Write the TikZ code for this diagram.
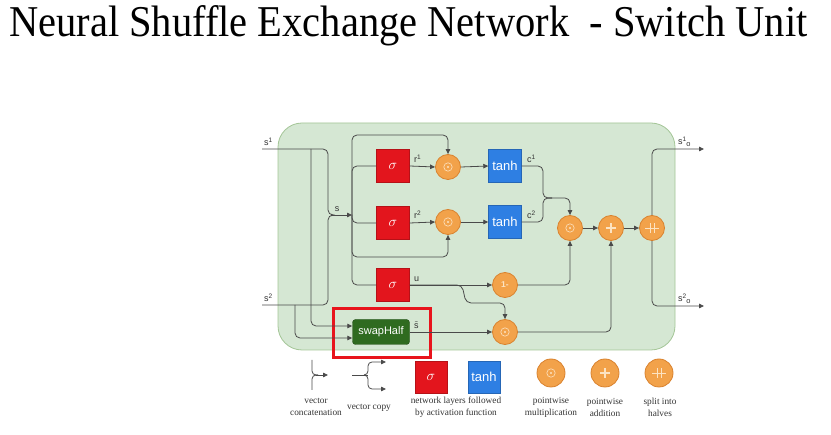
\documentclass[tikz,border=0pt]{standalone}
\usepackage{fontspec}
\setmainfont{Liberation Serif}
\setsansfont{Liberation Sans}
\usetikzlibrary{arrows.meta}
\definecolor{panelfill}{HTML}{D5E7D3}
\definecolor{paneledge}{HTML}{A3C596}
\definecolor{sigred}{HTML}{E3151D}
\definecolor{tanhblue}{HTML}{2E7FE3}
\definecolor{opfill}{HTML}{F2A24A}
\definecolor{opedge}{HTML}{D9822E}
\definecolor{opmark}{HTML}{FCE3C2}
\definecolor{swgreen}{HTML}{2F6B20}
\definecolor{wire}{HTML}{4A4A4A}
\definecolor{hilite}{HTML}{E8141C}
\newcommand{\upidx}[1]{\raisebox{3.2pt}{\fontsize{6.5}{6.5}\selectfont #1}}
\newcommand{\dnidx}[1]{\raisebox{-2.5pt}{\fontsize{7.5}{7.5}\selectfont #1}}
\tikzset{
  wirestyle/.style={draw=wire, line width=0.8pt, rounded corners=5pt},
  arr/.style={wirestyle, -{Triangle[length=5pt,width=4.5pt]}},
  sigbox/.style={draw=sigred!80!black, fill=sigred, minimum size=33pt, inner sep=0pt,
    text=white, font=\fontsize{15}{15}\selectfont\itshape},
  tanhbox/.style={draw=tanhblue!80!black, fill=tanhblue, minimum size=33pt, inner sep=0pt,
    text=white, font=\sffamily\fontsize{13}{13}\selectfont},
  opcirc/.style={circle, draw=opedge, line width=0.8pt, fill=opfill, minimum size=25pt, inner sep=0pt},
  mulop/.style={opcirc, path picture={
      \draw[opmark, line width=0.6pt] (path picture bounding box.center) circle (4.2pt);
      \fill[opmark] (path picture bounding box.center) circle (1.1pt);}},
  addop/.style={opcirc, path picture={
      \draw[opmark, line width=1.3pt] ([xshift=-5pt]path picture bounding box.center) -- ([xshift=5pt]path picture bounding box.center)
        ([yshift=-5pt]path picture bounding box.center) -- ([yshift=5pt]path picture bounding box.center);}},
  splitop/.style={opcirc, path picture={
      \draw[opmark, line width=0.8pt] ([xshift=-7pt]path picture bounding box.center) -- ([xshift=7pt]path picture bounding box.center)
        ([xshift=-2pt,yshift=-5pt]path picture bounding box.center) -- ([xshift=-2pt,yshift=5pt]path picture bounding box.center)
        ([xshift=2pt,yshift=-5pt]path picture bounding box.center) -- ([xshift=2pt,yshift=5pt]path picture bounding box.center);}},
  lbl/.style={font=\sffamily\fontsize{9}{9}\selectfont, text=black!80, inner sep=0pt},
  legtext/.style={font=\fontsize{9.3}{12}\selectfont, text=black!80, align=center, inner sep=0pt},
}
\begin{document}
\begin{tikzpicture}[x=1pt, y=-1pt]
\useasboundingbox (0,0) rectangle (831,435);

% title
\node[anchor=base west, inner sep=0pt, font=\fontsize{44}{44}\selectfont] (title) at (9,37)
  {\scalebox{0.92}[1]{Neural Shuffle Exchange Network\ \ - Switch Unit}};

% background panel of the switch unit
\draw[fill=panelfill, draw=paneledge, line width=0.8pt, rounded corners=24pt] (278,123) rectangle (675,350);

% layers
\node[sigbox] (sg1) at (393,166) {$\sigma$};
\node[sigbox] (sg2) at (393,223) {$\sigma$};
\node[sigbox] (sg3) at (393,285) {$\sigma$};
\node[tanhbox] (th1) at (505,166) {tanh};
\node[tanhbox] (th2) at (505,222) {tanh};
\node[draw=swgreen!70!black, fill=swgreen, rounded corners=3pt, minimum width=57pt, minimum height=25pt,
  inner sep=0pt, text=white, font=\sffamily\fontsize{11}{11}\selectfont] (sw) at (381,332) {swapHalf};
\node[draw=hilite, line width=2.6pt, minimum width=97pt, minimum height=49pt, inner sep=0pt] (hl) at (382,333) {};

% pointwise operations
\node[mulop] (m1) at (448,167) {};
\node[mulop] (m2) at (448,222) {};
\node[mulop] (m3) at (570,228) {};
\node[mulop] (m4) at (505,332) {};
\node[opcirc, text=opmark, font=\sffamily\bfseries\fontsize{8.5}{8.5}\selectfont] (om) at (505,285) {1-};
\node[addop] (ad) at (611,228) {};
\node[splitop] (sp) at (652,228) {};

% inputs and outputs
\coordinate (in1) at (262,149);
\coordinate (in2) at (262,305);
\coordinate (sj) at (331,215);
\coordinate (bus) at (352,215);
\coordinate (t1) at (311,149);
\coordinate (t2) at (295,305);
\coordinate (o1) at (704,149);
\coordinate (o2) at (704,306);

\node[lbl, anchor=south west] at (264,146) {s\upidx{1}};
\node[lbl, anchor=south west] at (264,302) {s\upidx{2}};
\node[lbl, anchor=south] at (337,212) {s};
\node[lbl, anchor=south west] at (678,147) {s\upidx{1}\dnidx{o}};
\node[lbl, anchor=south west] at (678,304) {s\upidx{2}\dnidx{o}};
\node[lbl, anchor=south west] at (414,163) {r\upidx{1}};
\node[lbl, anchor=south west] at (414,219) {r\upidx{2}};
\node[lbl, anchor=south west] at (527,163) {c\upidx{1}};
\node[lbl, anchor=south west] at (527,219) {c\upidx{2}};
\node[lbl, anchor=south west] at (414,282) {u};
\node[lbl, anchor=south west] at (414,329) {$\tilde{\mathsf{s}}$};

% concatenation of the inputs
\draw[wirestyle] (in1) -- (328,149) -- (328,215) -- (sj);
\draw[wirestyle] (in2) -- (328,305) -- (328,215) -- (sj);
\draw[arr] (sj) -- (bus);
% copies of the inputs into swapHalf
\draw[arr] (t1) -- (311,326) -- (sw.west |- 0,326);
\draw[arr] (t2) -- (295,338) -- (sw.west |- 0,338);

% copies of s
\draw[arr] (bus) -- (352,135) -- (m1.north |- 0,135) -- (m1.north);
\draw[wirestyle] (bus) -- (352,166) -- (sg1.west);
\draw[wirestyle] (bus) -- (352,223) -- (sg2.west);
\draw[arr] (bus) -- (352,257) -- (m2.south |- 0,257) -- (m2.south);
\draw[wirestyle] (bus) -- (352,285) -- (sg3.west);

% gates
\draw[arr] (sg1.east) -- (m1.west);
\draw[arr] (sg2.east) -- (m2.west);
\draw[arr] (m1.east) -- (th1.west);
\draw[arr] (m2.east) -- (th2.west);
\draw[wirestyle] (th1.east) -- (543,166) -- (543,198) -- (552,198);
\draw[wirestyle] (th2.east) -- (543,222) -- (543,198) -- (552,198);
\draw[arr] (548,198) -- (m3.north |- 0,198) -- (m3.north);
\draw[arr] (sg3.east) -- (om.west);
\draw[arr] (sg3.east) -- (462,285) -- (466,303) -- (m4.north |- 0,303) -- (m4.north);
\draw[arr] (om.east) -- (m3.south |- om.east) -- (m3.south);
\draw[arr] (sw.east) -- (m4.west);
\draw[arr] (m4.east) -- (ad.south |- m4.east) -- (ad.south);
\draw[arr] (m3.east) -- (ad.west);
\draw[arr] (ad.east) -- (sp.west);
\draw[arr] (sp.north) -- (sp.north |- o1) -- (o1);
\draw[arr] (sp.south) -- (sp.south |- o2) -- (o2);

% legend
\coordinate (lc1) at (312,360);
\coordinate (lc2) at (312,390);
\coordinate (lc3) at (328,375);
\draw[wirestyle, rounded corners=4pt] (lc1) -- (312,375) -- (318,375);
\draw[wirestyle, rounded corners=4pt] (lc2) -- (312,375) -- (318,375);
\draw[arr] (316,375) -- (lc3);
\coordinate (lv0) at (352,375);
\coordinate (lv1) at (386,362);
\coordinate (lv2) at (386,389);
\draw[wirestyle] (lv0) -- (368,375);
\draw[arr, rounded corners=4pt] (364,375) -- (368,375) -- (368,362) -- (lv1);
\draw[arr, rounded corners=4pt] (364,375) -- (368,375) -- (368,389) -- (lv2);
\node[sigbox, minimum size=32pt] (lsg) at (431,377) {$\sigma$};
\node[tanhbox, minimum size=32pt] (lth) at (484,377) {tanh};
\node[mulop, minimum size=28pt] (lm) at (551,373) {};
\node[addop, minimum size=28pt] (la) at (605,373) {};
\node[splitop, minimum size=28pt] (ls) at (659,373) {};
\node[legtext] (tc) at (316,407) {vector\\concatenation};
\node[legtext] (tv) at (369,408) {vector copy};
\node[legtext] (tl) at (456,407) {network layers followed\\by activation function};
\node[legtext] (tm) at (551,407) {pointwise\\multiplication};
\node[legtext] (ta) at (605,407) {pointwise\\addition};
\node[legtext] (ts) at (660,407) {split into\\halves};
\end{tikzpicture}
\end{document}
